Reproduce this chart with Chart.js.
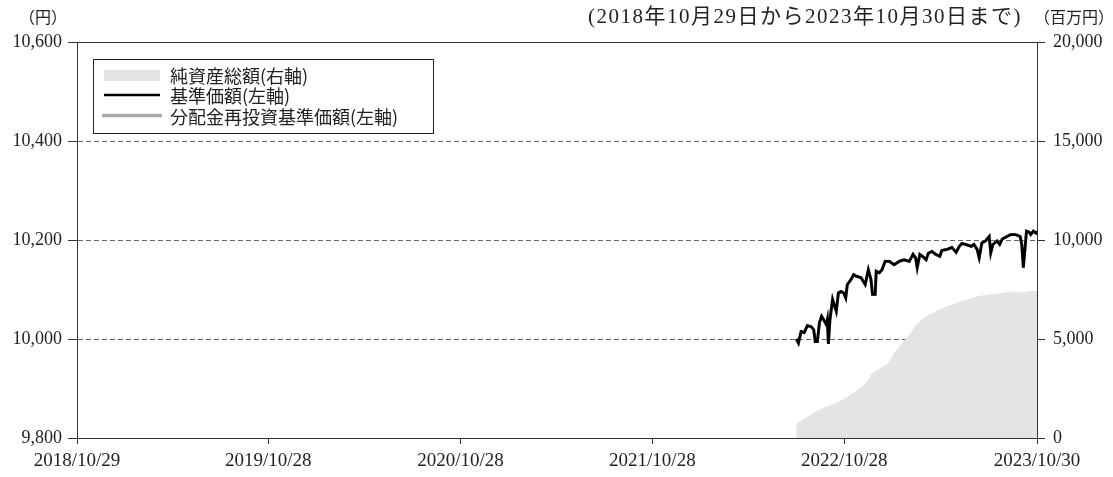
<!DOCTYPE html>
<html lang="ja">
<head>
<meta charset="utf-8">
<title>基準価額・純資産総額の推移</title>
<script src="https://cdn.jsdelivr.net/npm/chart.js@4.4.0/dist/chart.umd.min.js"></script>
<style>
  html, body { margin: 0; padding: 0; background: #fff; }
</style>
</head>
<body>
<canvas id="navChart" width="1113" height="477"></canvas>
<script>
// Period shown on the x axis
const START_DATE = "2018-10-29";
const END_DATE = "2023-10-30";

const xTickDates = ["2018-10-29", "2019-10-28", "2020-10-28", "2021-10-28", "2022-10-28", "2023-10-30"];
const xTickLabels = ["2018/10/29", "2019/10/28", "2020/10/28", "2021/10/28", "2022/10/28", "2023/10/30"];

// 基準価額 (円, left axis)
const navDates = [
  "2022-07-29", "2022-08-02", "2022-08-07", "2022-08-13", "2022-08-19", "2022-08-26", "2022-08-31",
  "2022-09-03", "2022-09-07", "2022-09-11", "2022-09-15", "2022-09-19", "2022-09-24", "2022-09-26",
  "2022-09-28", "2022-10-01", "2022-10-06", "2022-10-10", "2022-10-13", "2022-10-17", "2022-10-22",
  "2022-10-27", "2022-10-31", "2022-11-03", "2022-11-10", "2022-11-15", "2022-11-20", "2022-11-29",
  "2022-12-07", "2022-12-13", "2022-12-18", "2022-12-21", "2022-12-26", "2022-12-28", "2023-01-03",
  "2023-01-08", "2023-01-14", "2023-01-22", "2023-01-31", "2023-02-10", "2023-02-19", "2023-03-01",
  "2023-03-08", "2023-03-13", "2023-03-16", "2023-03-21", "2023-03-26", "2023-04-02", "2023-04-06",
  "2023-04-13", "2023-04-20", "2023-04-28", "2023-05-02", "2023-05-12", "2023-05-21", "2023-05-29",
  "2023-06-04", "2023-06-09", "2023-06-16", "2023-06-27", "2023-07-02", "2023-07-08", "2023-07-12",
  "2023-07-17", "2023-07-24", "2023-07-31", "2023-08-03", "2023-08-07", "2023-08-15", "2023-08-20",
  "2023-08-25", "2023-09-01", "2023-09-10", "2023-09-19", "2023-09-28", "2023-10-01", "2023-10-04",
  "2023-10-07", "2023-10-10", "2023-10-15", "2023-10-18", "2023-10-23", "2023-10-28", "2023-10-30"
];
const navValues = [
  10000, 9992, 10015, 10013, 10027, 10025, 10019,
  9995, 9995, 10033, 10046, 10039, 10029, 10039,
  9990, 10039, 10080, 10066, 10056, 10093, 10096,
  10093, 10083, 10110, 10120, 10130, 10127, 10124,
  10110, 10140, 10120, 10090, 10090, 10137, 10134,
  10140, 10157, 10157, 10150, 10157, 10160, 10157,
  10171, 10164, 10144, 10171, 10167, 10160, 10173,
  10177, 10171, 10167, 10179, 10181, 10185, 10175,
  10187, 10193, 10191, 10187, 10191, 10181, 10164,
  10194, 10198, 10207, 10174, 10191, 10198, 10191,
  10202, 10206, 10211, 10211, 10207, 10191, 10144,
  10181, 10218, 10216, 10211, 10218, 10214, 10218
];
// no distributions paid yet, so the reinvested line sits under the NAV line
const reinvestedNavValues = navValues.slice();

// 純資産総額 (百万円, right axis)
const assetDates = [
  "2022-07-29", "2022-08-16", "2022-09-05", "2022-09-30", "2022-10-26", "2022-11-20", "2022-12-09",
  "2022-12-21", "2023-01-03", "2023-01-19", "2023-02-03", "2023-02-22", "2023-03-13", "2023-04-02",
  "2023-04-28", "2023-05-23", "2023-06-16", "2023-07-12", "2023-08-06", "2023-08-31", "2023-09-26",
  "2023-10-21", "2023-10-30"
];
const assetValues = [
  700, 1000, 1330, 1620, 1920, 2350, 2770,
  3270, 3480, 3700, 4370, 4960, 5640, 6140,
  6480, 6730, 6950, 7150, 7240, 7330, 7330,
  7400, 7410
];

const dayOf = (s) => (Date.parse(s) - Date.parse(START_DATE)) / 86400000;
const toPoints = (dates, values) => dates.map((d, i) => ({ x: dayOf(d), y: values[i] }));

const TEXT = "#222";
const AXIS = "#333";
const serif = '"Liberation Serif", "Noto Sans CJK JP", serif';
const cjk = '"Noto Sans CJK JP", sans-serif';

// frame, legend box and the small notes above the plot
const notesPlugin = {
  id: "notes",
  afterDraw(chart) {
    const { ctx, chartArea: a } = chart;
    ctx.save();
    ctx.strokeStyle = AXIS;
    ctx.lineWidth = 1;
    ctx.strokeRect(Math.round(a.left) + 0.5, Math.round(a.top) + 0.5,
      Math.round(a.right - a.left), Math.round(a.bottom - a.top));

    // legend
    ctx.fillStyle = "#fff";
    ctx.fillRect(94, 60, 339, 73);
    ctx.strokeStyle = "#222";
    ctx.strokeRect(93.5, 59.5, 340, 74);

    ctx.fillStyle = "#e4e4e4";
    ctx.fillRect(104, 70, 56, 11);
    ctx.strokeStyle = "#000";
    ctx.lineWidth = 2.5;
    ctx.beginPath(); ctx.moveTo(104, 95); ctx.lineTo(160, 95); ctx.stroke();
    ctx.strokeStyle = "#a9a9a9";
    ctx.lineWidth = 3.5;
    ctx.beginPath(); ctx.moveTo(102, 115.5); ctx.lineTo(162, 115.5); ctx.stroke();

    ctx.fillStyle = TEXT;
    ctx.font = "18px " + cjk;
    ctx.textBaseline = "middle";
    ctx.textAlign = "left";
    ctx.fillText("純資産総額(右軸)", 170, 76);
    ctx.fillText("基準価額(左軸)", 170, 96);
    ctx.fillText("分配金再投資基準価額(左軸)", 170, 117);

    // units and period
    ctx.font = "16px " + cjk;
    ctx.textAlign = "center";
    ctx.fillText("（円）", 43, 17);
    ctx.fillText("（百万円）", 1074, 17);

    ctx.font = "21px " + serif;
    ctx.textAlign = "right";
    ctx.letterSpacing = "1.5px";
    ctx.fillText("(2018年10月29日から2023年10月30日まで)", 1022, 17);
    ctx.restore();
  },
};

const chartCtx = document.getElementById("navChart").getContext("2d");

new Chart(chartCtx, {
  type: "line",
  data: {
    datasets: [
      {
        label: "基準価額(左軸)",
        data: toPoints(navDates, navValues),
        yAxisID: "y",
        borderColor: "#000",
        borderWidth: 2.8,
        pointRadius: 0,
        fill: false,
        tension: 0,
        order: 1,
      },
      {
        label: "分配金再投資基準価額(左軸)",
        data: toPoints(navDates, reinvestedNavValues),
        yAxisID: "y",
        borderColor: "#a9a9a9",
        borderWidth: 3,
        pointRadius: 0,
        fill: false,
        tension: 0,
        order: 2,
      },
      {
        label: "純資産総額(右軸)",
        data: toPoints(assetDates, assetValues),
        yAxisID: "y2",
        borderColor: "#e4e4e4",
        borderWidth: 1,
        backgroundColor: "#e4e4e4",
        pointRadius: 0,
        fill: "origin",
        tension: 0,
        order: 3,
      },
    ],
  },
  options: {
    responsive: false,
    animation: false,
    layout: { padding: { top: 42, left: 0, right: 0, bottom: 0 } },
    plugins: {
      legend: { display: false },
      tooltip: { enabled: false },
    },
    scales: {
      x: {
        type: "linear",
        min: 0,
        max: dayOf(END_DATE),
        afterBuildTicks: (scale) => {
          scale.ticks = xTickDates.map((d) => ({ value: dayOf(d) }));
        },
        afterFit: (scale) => { scale.height = 39; },
        ticks: {
          autoSkip: false,
          maxRotation: 0,
          padding: 6,
          color: TEXT,
          font: { family: serif, size: 19 },
          callback: (value) => xTickLabels[xTickDates.findIndex((d) => dayOf(d) === value)],
        },
        grid: { drawOnChartArea: false, tickLength: 6, tickColor: AXIS },
        border: { color: AXIS },
      },
      y: {
        position: "left",
        min: 9800,
        max: 10600,
        afterFit: (scale) => { scale.width = 77; },
        ticks: {
          stepSize: 200,
          padding: 6,
          color: TEXT,
          font: { family: serif, size: 18 },
          callback: (v) => v.toLocaleString("en-US"),
        },
        grid: {
          color: (c) => (c.tick && (c.tick.value === 9800 || c.tick.value === 10600)) ? "rgba(0,0,0,0)" : "#666",
          tickColor: AXIS,
          tickLength: 9,
        },
        border: { color: AXIS, dash: [5, 3] },
      },
      y2: {
        position: "right",
        min: 0,
        max: 20000,
        afterFit: (scale) => { scale.width = 76; },
        ticks: {
          stepSize: 5000,
          padding: 8,
          color: TEXT,
          font: { family: serif, size: 18 },
          callback: (v) => v.toLocaleString("en-US"),
        },
        grid: { drawOnChartArea: false, tickLength: 8, tickColor: AXIS },
        border: { color: AXIS },
      },
    },
  },
  plugins: [notesPlugin],
});
</script>
</body>
</html>
